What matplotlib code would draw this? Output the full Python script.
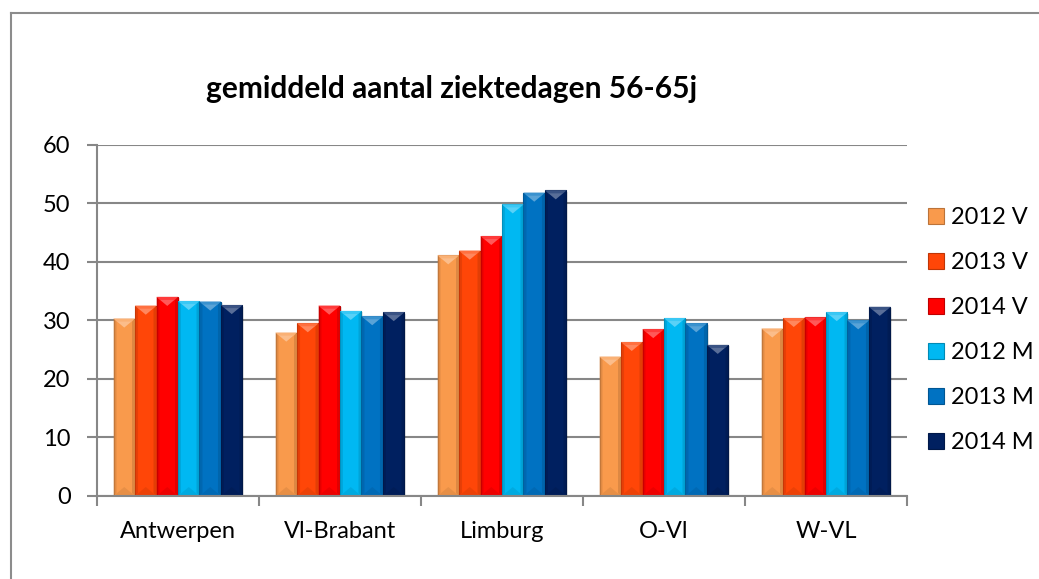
import matplotlib
matplotlib.use("Agg")
import matplotlib.pyplot as plt
import matplotlib.colors as mcolors
from matplotlib.patches import Polygon, Patch
from matplotlib.lines import Line2D
import numpy as np

categories = ["Antwerpen", "Vl-Brabant", "Limburg", "O-Vl", "W-VL"]
series_names = ["2012 V", "2013 V", "2014 V", "2012 M", "2013 M", "2014 M"]
v2012 = [30.3, 27.9, 41.1, 23.8, 28.6]
v2013 = [32.5, 29.5, 41.9, 26.3, 30.4]
v2014 = [34.0, 32.5, 44.4, 28.5, 30.5]
m2012 = [33.3, 31.6, 49.8, 30.4, 31.4]
m2013 = [33.2, 30.7, 51.8, 29.5, 30.0]
m2014 = [32.6, 31.4, 52.2, 25.8, 32.3]
series_values = [v2012, v2013, v2014, m2012, m2013, m2014]
colors = ["#F99A4C", "#FF4608", "#FF0000", "#00B8F2", "#0072C2", "#002060"]
yticks = [0, 10, 20, 30, 40, 50, 60]
title = "gemiddeld aantal ziektedagen 56-65j"

plt.rcParams['font.family'] = ['Lato', 'DejaVu Sans']
W, H = 1039, 579
fig = plt.figure(figsize=(W / 100, H / 100), dpi=100)
ax = fig.add_axes([97 / W, 1 - 496 / H, (907 - 97) / W, (496 - 144.7) / H])

grid_c = "#878787"
x = np.arange(len(categories))
bw = 0.1327
n = len(series_values)

ax.set_xlim(-0.5, len(categories) - 0.5)
ax.set_ylim(0, 60)

# pixel -> data conversion for bevel sizes
ax_w_px = (907 - 97)
ax_h_px = (496 - 144.7)
px_x = (len(categories)) / ax_w_px
px_y = 60 / ax_h_px


def shade(c, f):
    r, g, b = mcolors.to_rgb(c)
    if f > 0:
        return (r + (1 - r) * f, g + (1 - g) * f, b + (1 - b) * f)
    return (r * (1 + f), g * (1 + f), b * (1 + f))


for i, (vals, c) in enumerate(zip(series_values, colors)):
    xs = x + (i - (n - 1) / 2) * bw
    # shadow
    ax.bar(xs + 2 * px_x, np.array(vals) - 0.25, width=bw, bottom=-0.0,
           color="#000000", alpha=0.10, zorder=2, linewidth=0)
    ax.bar(xs, vals, width=bw, color=c, edgecolor=shade(c, -0.25),
           linewidth=0.8, zorder=3)
    for xc, v in zip(xs, vals):
        x0, x1 = xc - bw / 2, xc + bw / 2
        th = 9 * px_y
        ax.add_patch(Polygon([(x0, v), (x1, v), (xc, v - th)], closed=True,
                             facecolor=shade(c, 0.35), edgecolor='none',
                             zorder=4))
        ax.add_patch(Polygon([(x0, v), (x0 + 3 * px_x, v - 3 * px_y), (x1 - 3 * px_x, v - 3 * px_y), (x1, v)],
                             closed=True, facecolor=shade(c, 0.15), edgecolor='none',
                             alpha=0.6, zorder=4))
        ax.add_patch(Polygon([(x0, 0), (x1, 0), (xc, th)], closed=True,
                             facecolor=shade(c, -0.12), edgecolor='none',
                             alpha=0.6, zorder=4))
        ax.add_patch(Polygon([(x0, 0), (x0 + 3 * px_x, 3 * px_y), (x0 + 3 * px_x, v - 3 * px_y), (x0, v)],
                             closed=True, facecolor=shade(c, -0.18), edgecolor='none',
                             alpha=0.5, zorder=4))
        ax.add_patch(Polygon([(x1, 0), (x1 - 3 * px_x, 3 * px_y), (x1 - 3 * px_x, v - 3 * px_y), (x1, v)],
                             closed=True, facecolor=shade(c, -0.22), edgecolor='none',
                             alpha=0.5, zorder=4))

ax.set_yticks(yticks)
ax.set_yticklabels([str(t) for t in yticks])
ax.yaxis.grid(True, color=grid_c, linewidth=1.5, zorder=0)
ax.set_axisbelow(True)

ax.set_xticks(x)
ax.set_xticklabels(categories)
ax.set_xticks(np.arange(-0.5, len(categories), 1.0), minor=True)
ax.tick_params(axis='x', which='major', length=0, pad=18, labelsize=17, colors='#000000')
ax.tick_params(axis='x', which='minor', length=7, width=1.5, color=grid_c, direction='out')
ax.tick_params(axis='y', which='major', length=7, width=1.5, color=grid_c, direction='out',
               pad=12, labelsize=17)

for s in ["top", "right"]:
    ax.spines[s].set_visible(False)
for s in ["left", "bottom"]:
    ax.spines[s].set_color(grid_c)
    ax.spines[s].set_linewidth(1.5)
    ax.spines[s].set_zorder(5)

fig.text(452 / W, 1 - 89 / H, title, ha='center', va='center',
         fontsize=21.5, fontweight='bold', color='#000000')

handles = []
for c in colors:
    handles.append(Patch(facecolor=c, edgecolor=shade(c, -0.25), linewidth=0.8))
leg = fig.legend(handles, series_names, loc='upper left',
                 bbox_to_anchor=(928 / W, 1 - 207 / H), frameon=False,
                 fontsize=17, handlelength=0.68, handleheight=0.68,
                 handletextpad=0.3, labelspacing=1.02, borderaxespad=0,
                 borderpad=0)

# chart border
fig.add_artist(Line2D([11 / W, 1.0], [1 - 13 / H, 1 - 13 / H], transform=fig.transFigure,
                      color="#8C8C8C", linewidth=1.5))
fig.add_artist(Line2D([11 / W, 11 / W], [1 - 13 / H, 0.0], transform=fig.transFigure,
                      color="#8C8C8C", linewidth=1.5))

fig.savefig("out.png", dpi=100)
